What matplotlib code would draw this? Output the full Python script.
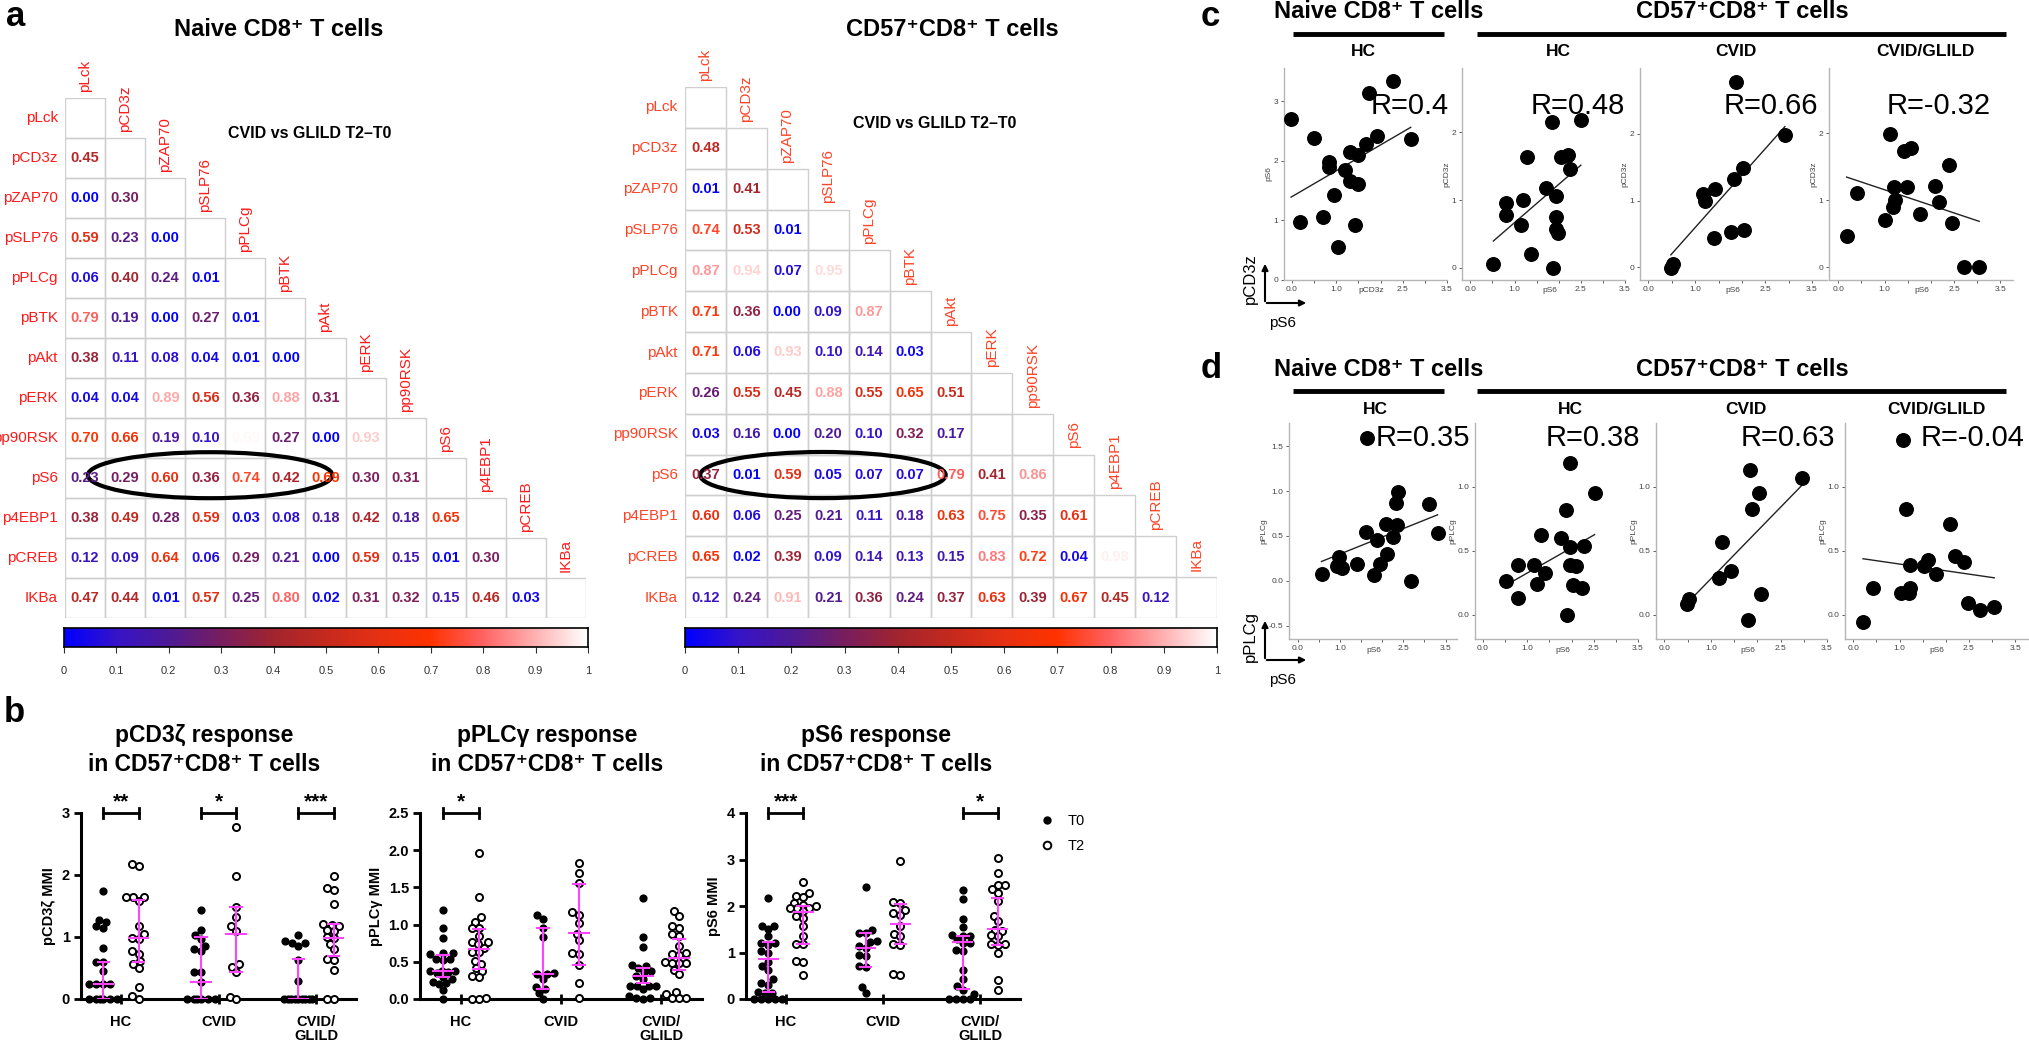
import numpy as np
import matplotlib
matplotlib.use('Agg')
import matplotlib.pyplot as plt
from matplotlib.colors import LinearSegmentedColormap
from matplotlib.patches import Rectangle, Ellipse
from matplotlib.lines import Line2D
from matplotlib.transforms import blended_transform_factory

plt.rcParams['font.family'] = ['Liberation Sans', 'DejaVu Sans']

# ---------------- data ----------------
markers = ['pLck', 'pCD3z', 'pZAP70', 'pSLP76', 'pPLCg', 'pBTK', 'pAkt', 'pERK',
           'pp90RSK', 'pS6', 'p4EBP1', 'pCREB', 'IKBa']

naive_p = [
    [],
    [0.45],
    [0.00, 0.30],
    [0.59, 0.23, 0.00],
    [0.06, 0.40, 0.24, 0.01],
    [0.79, 0.19, 0.00, 0.27, 0.01],
    [0.38, 0.11, 0.08, 0.04, 0.01, 0.00],
    [0.04, 0.04, 0.89, 0.56, 0.36, 0.88, 0.31],
    [0.70, 0.66, 0.19, 0.10, 0.99, 0.27, 0.00, 0.93],
    [0.23, 0.29, 0.60, 0.36, 0.74, 0.42, 0.69, 0.30, 0.31],
    [0.38, 0.49, 0.28, 0.59, 0.03, 0.08, 0.18, 0.42, 0.18, 0.65],
    [0.12, 0.09, 0.64, 0.06, 0.29, 0.21, 0.00, 0.59, 0.15, 0.01, 0.30],
    [0.47, 0.44, 0.01, 0.57, 0.25, 0.80, 0.02, 0.31, 0.32, 0.15, 0.46, 0.03],
]
cd57_p = [
    [],
    [0.48],
    [0.01, 0.41],
    [0.74, 0.53, 0.01],
    [0.87, 0.94, 0.07, 0.95],
    [0.71, 0.36, 0.00, 0.09, 0.87],
    [0.71, 0.06, 0.93, 0.10, 0.14, 0.03],
    [0.26, 0.55, 0.45, 0.88, 0.55, 0.65, 0.51],
    [0.03, 0.16, 0.00, 0.20, 0.10, 0.32, 0.17, 1.00],
    [0.37, 0.01, 0.59, 0.05, 0.07, 0.07, 0.79, 0.41, 0.86],
    [0.60, 0.06, 0.25, 0.21, 0.11, 0.18, 0.63, 0.75, 0.35, 0.61],
    [0.65, 0.02, 0.39, 0.09, 0.14, 0.13, 0.15, 0.83, 0.72, 0.04, 0.98],
    [0.12, 0.24, 0.91, 0.21, 0.36, 0.24, 0.37, 0.63, 0.39, 0.67, 0.45, 0.12],
]

groups = ['HC', 'CVID', 'CVID/\nGLILD']

cd3z_t0 = [
    [1.74, 1.28, 1.25, 1.17, 1.15, 0.82, 0.59, 0.59, 0.45, 0.24, 0.24, 0.24, 0.24, 0, 0, 0, 0, 0, 0],
    [1.43, 1.11, 1.03, 0.97, 0.86, 0.81, 0.77, 0.43, 0.43, 0.27, 0, 0, 0, 0, 0, 0],
    [1.03, 0.93, 0.91, 0.90, 0.86, 0.63, 0.29, 0, 0, 0, 0, 0, 0, 0, 0, 0],
]
cd3z_t2 = [
    [2.18, 2.15, 1.65, 1.65, 1.65, 1.58, 1.17, 1.05, 0.98, 0.97, 0.78, 0.73, 0.62, 0.57, 0.50, 0.20, 0.05, 0.0],
    [2.78, 1.98, 1.49, 1.33, 1.17, 1.10, 0.57, 0.52, 0.43, 0.04, 0.0],
    [1.99, 1.79, 1.76, 1.53, 1.21, 1.20, 1.17, 1.12, 1.09, 1.00, 0.98, 0.89, 0.80, 0.65, 0.63, 0.47, 0, 0],
]
cd3z_q_t0 = [(0.0, 0.24, 0.60), (0.0, 0.27, 1.00), (0.0, 0.0, 0.64)]
cd3z_q_t2 = [(0.59, 0.98, 1.60), (0.43, 1.05, 1.48), (0.69, 0.99, 1.21)]

plc_t0 = [
    [1.20, 0.95, 0.82, 0.62, 0.62, 0.60, 0.54, 0.54, 0.52, 0.38, 0.38, 0.37, 0.36, 0.35, 0.30, 0.27, 0.23, 0.21, 0.20, 0.12, 0.0],
    [1.13, 1.08, 0.96, 0.83, 0.35, 0.34, 0.33, 0.27, 0.16, 0.13, 0.08, 0.0],
    [1.36, 0.84, 0.70, 0.46, 0.45, 0.41, 0.38, 0.36, 0.31, 0.27, 0.18, 0.18, 0.18, 0.18, 0.13, 0.04, 0.02, 0.02, 0.0],
]
plc_t2 = [
    [1.96, 1.37, 1.10, 1.04, 0.96, 0.96, 0.85, 0.77, 0.77, 0.74, 0.69, 0.63, 0.63, 0.51, 0.47, 0.41, 0.37, 0.31, 0.29, 0.01, 0.0, 0.0],
    [1.83, 1.70, 1.56, 1.17, 1.13, 1.02, 0.88, 0.79, 0.62, 0.61, 0.46, 0.22, 0.02],
    [1.18, 1.12, 0.98, 0.96, 0.87, 0.85, 0.71, 0.62, 0.60, 0.59, 0.50, 0.49, 0.49, 0.49, 0.39, 0.33, 0.10, 0.07, 0.02, 0.02, 0.02],
]
plc_q_t0 = [(0.29, 0.38, 0.59), (0.13, 0.34, 0.95), (0.22, 0.31, 0.42)]
plc_q_t2 = [(0.40, 0.67, 0.94), (0.46, 0.89, 1.55), (0.39, 0.55, 0.80)]

s6_t0 = [
    [2.17, 1.58, 1.56, 1.51, 1.35, 1.20, 1.20, 1.17, 1.03, 0.99, 0.79, 0.70, 0.63, 0.42, 0.34, 0.31, 0.16, 0.13, 0.13, 0, 0, 0, 0, 0],
    [2.41, 1.49, 1.43, 1.41, 1.24, 1.22, 1.13, 1.10, 0.95, 0.92, 0.70, 0.68, 0.25, 0.12],
    [2.34, 2.14, 1.71, 1.54, 1.38, 1.35, 1.35, 1.28, 1.20, 1.20, 1.06, 1.04, 0.63, 0.43, 0.27, 0.20, 0.11, 0, 0, 0, 0],
]
s6_t2 = [
    [2.51, 2.27, 2.22, 2.19, 2.06, 2.03, 2.01, 1.96, 1.96, 1.96, 1.89, 1.78, 1.74, 1.56, 1.35, 1.19, 1.18, 0.81, 0.80, 0.52],
    [2.96, 2.08, 2.06, 1.91, 1.85, 1.81, 1.56, 1.40, 1.35, 1.19, 1.17, 0.54, 0.52],
    [3.03, 2.72, 2.46, 2.46, 2.37, 2.28, 2.10, 1.79, 1.67, 1.49, 1.46, 1.38, 1.35, 1.19, 1.19, 1.17, 1.00, 0.40, 0.20],
]
s6_q_t0 = [(0.14, 0.86, 1.22), (0.68, 1.10, 1.42), (0.22, 1.22, 1.36)]
s6_q_t2 = [(1.19, 1.87, 2.00), (1.19, 1.61, 2.04), (1.17, 1.51, 2.17)]

# panel c: pCD3z vs pS6
c_naive_hc_x = [-0.02, 0.18, 0.49, 0.71, 0.84, 0.84, 0.96, 1.03, 1.20, 1.30, 1.30, 1.42, 1.49, 1.49, 1.66, 1.74, 1.92, 2.28, 2.68]
c_naive_hc_y = [2.71, 0.97, 2.38, 1.05, 1.98, 1.89, 1.42, 0.55, 1.85, 2.15, 1.66, 0.92, 2.10, 1.62, 2.29, 3.14, 2.42, 3.35, 2.36]
c_cd57_hc_x = [0.52, 0.80, 0.80, 1.14, 1.20, 1.29, 1.38, 1.72, 1.85, 1.87, 1.94, 1.94, 1.94, 1.99, 2.04, 2.20, 2.26, 2.50]
c_cd57_hc_y = [0.06, 0.96, 0.78, 0.63, 1.00, 1.63, 0.20, 1.18, 2.15, 0.00, 1.06, 0.75, 0.58, 0.52, 1.64, 1.66, 1.46, 2.18]
c_cd57_cvid_x = [0.48, 0.52, 1.16, 1.22, 1.40, 1.42, 1.77, 1.83, 1.87, 2.02, 2.04, 2.92]
c_cd57_cvid_y = [-0.01, 0.05, 1.10, 0.99, 0.44, 1.17, 0.53, 1.33, 2.78, 1.49, 0.56, 1.98]
c_cd57_glild_x = [0.18, 0.40, 1.00, 1.11, 1.18, 1.20, 1.22, 1.41, 1.49, 1.58, 1.76, 2.09, 2.17, 2.38, 2.45, 2.72, 3.04]
c_cd57_glild_y = [0.47, 1.10, 0.70, 1.99, 0.90, 1.20, 1.00, 1.73, 1.20, 1.78, 0.79, 1.21, 0.98, 1.53, 0.66, 0.00, 0.00]
c_r = ['R=0.4', 'R=0.48', 'R=0.66', 'R=-0.32']

# panel d: pPLCg vs pS6
d_naive_hc_x = [0.56, 0.98, 0.93, 1.05, 1.40, 1.61, 1.81, 1.87, 1.94, 2.08, 2.12, 2.26, 2.32, 2.36, 2.38, 2.68, 3.10, 3.31, 1.63]
d_naive_hc_y = [0.07, 0.26, 0.17, 0.14, 0.19, 0.54, 0.06, 0.46, 0.19, 0.63, 0.30, 0.49, 0.87, 0.62, 0.99, 0.00, 0.86, 0.53, 1.59]
d_cd57_hc_x = [0.53, 0.80, 0.80, 1.16, 1.22, 1.32, 1.40, 1.76, 1.87, 1.89, 1.96, 1.96, 2.03, 2.09, 1.96, 2.23, 2.28, 2.52]
d_cd57_hc_y = [0.26, 0.39, 0.13, 0.39, 0.24, 0.62, 0.33, 0.60, 0.82, 0.00, 0.53, 0.39, 0.23, 0.38, 1.19, 0.21, 0.54, 0.95]
d_cd57_cvid_x = [0.49, 0.53, 1.18, 1.24, 1.43, 1.79, 1.85, 1.89, 2.03, 2.07, 2.96]
d_cd57_cvid_y = [0.08, 0.12, 0.29, 0.57, 0.34, -0.04, 1.13, 0.83, 0.95, 0.16, 1.07]
d_cd57_glild_x = [0.21, 0.43, 1.03, 1.14, 1.20, 1.23, 1.23, 1.52, 1.61, 1.79, 2.10, 2.21, 2.40, 2.48, 2.75, 3.05, 1.08]
d_cd57_glild_y = [-0.06, 0.21, 0.17, 0.83, 0.17, 0.21, 0.39, 0.38, 0.43, 0.32, 0.71, 0.46, 0.41, 0.09, 0.04, 0.06, 1.37]
d_r = ['R=0.35', 'R=0.38', 'R=0.63', 'R=-0.04']

# ---------------- figure ----------------
W, H = 2029, 1040
fig = plt.figure(figsize=(W / 100, H / 100), dpi=100)


def px_axes(x0, y0, x1, y1):
    ax = fig.add_axes([x0 / W, 1 - y1 / H, (x1 - x0) / W, (y1 - y0) / H])
    ax.patch.set_alpha(0)
    return ax


# overlay in pixel units for titles, bars and panel letters
ov = fig.add_axes([0, 0, 1, 1])
ov.set_xlim(0, W)
ov.set_ylim(H, 0)
ov.axis('off')

pcol = LinearSegmentedColormap.from_list('pval', [
    (0.0, '#0000ff'), (0.1, '#3614c8'), (0.2, '#4e1a96'), (0.3, '#781e5e'),
    (0.4, '#a2252f'), (0.5, '#c52a1e'), (0.6, '#e63113'), (0.7, '#ff3300'),
    (0.8, '#ff6262'), (0.9, '#ffb0b0'), (1.0, '#ffffff')])


def heatmap(rect, vals, lab_color, note_xy, ell):
    ax = px_axes(*rect)
    n = len(markers)
    ax.set_xlim(0, n)
    ax.set_ylim(n, 0)
    ax.axis('off')
    for i, row in enumerate(vals):
        for j in range(i + 1):
            ax.add_patch(Rectangle((j, i), 1, 1, fill=False, ec='#cfcfcf', lw=1))
        for j, v in enumerate(row):
            ax.text(j + 0.5, i + 0.5, f'{v:.2f}', color=pcol(v), ha='center', va='center',
                    fontsize=10.5, fontweight='bold')
    for i, m in enumerate(markers):
        ax.text(-0.18, i + 0.5, m, ha='right', va='center', color=lab_color, fontsize=11, clip_on=False)
        ax.text(i + 0.5, i - 0.15, m, rotation=90, ha='center', va='bottom', color=lab_color, fontsize=11)
    ax.text(note_xy[0], note_xy[1], 'CVID vs GLILD T2\u2013T0', ha='center', va='center',
            fontsize=11.5, fontweight='bold')
    r = markers.index('pS6')
    ax.add_patch(Ellipse((ell[0], r + ell[1]), ell[2], ell[3], fill=False, ec='black', lw=3, clip_on=False))


def colorbar(rect):
    cax = px_axes(*rect)
    cax.imshow(np.linspace(0, 1, 256)[None, :], cmap=pcol, aspect='auto', extent=[0, 1, 0, 1])
    ticks = np.round(np.arange(0, 1.01, 0.1), 1)
    cax.set_xticks(ticks)
    cax.set_xticklabels(['0'] + [f'{t:.1f}' for t in ticks[1:-1]] + ['1'])
    cax.set_yticks([])
    cax.tick_params(axis='x', length=4, pad=10, labelsize=8, colors='#333333')
    for s in cax.spines.values():
        s.set_linewidth(1.2)


heatmap((65, 98, 586, 618), naive_p, '#ff1a1a', (6.1, 0.88), (3.62, 0.43, 6.1, 1.15))
heatmap((685, 87, 1217, 618), cd57_p, '#ff4326', (6.1, 0.9), (3.37, 0.5, 6.0, 1.13))
colorbar((64, 628, 588, 647))
colorbar((685, 628, 1217, 647))

ov.text(279, 30, 'Naive CD8\u207a T cells', ha='center', va='center', fontsize=17, fontweight='bold')
ov.text(952, 30, 'CD57\u207aCD8\u207a T cells', ha='center', va='center', fontsize=17, fontweight='bold')


# ---------------- panel b ----------------
def swarm_x(ax, xc, vals, diam, maxw):
    t = ax.transData
    pts = t.transform(np.column_stack([np.full(len(vals), xc), vals]))
    cx = pts[0, 0]
    ys = pts[:, 1]
    cands = np.arange(-maxw, maxw + 0.01, 0.5)
    cands = cands[np.argsort(np.abs(cands), kind='stable')]
    placed = []
    xs = np.zeros(len(vals))
    for i in np.argsort(ys, kind='stable'):
        best, bestd, bestx = None, -1, cx
        for c in cands:
            x = cx + c
            d = min([np.hypot(x - px, ys[i] - py) for px, py in placed], default=1e9)
            if d >= diam:
                best = x
                break
            if d > bestd:
                bestd, bestx = d, x
        if best is None:
            best = bestx
        placed.append((best, ys[i]))
        xs[i] = best
    return t.inverted().transform(np.column_stack([xs, ys]))[:, 0]


def dot_chart(rect, t0, t2, q0, q2, top, yticks, ytl, ylabel, sig):
    ax = px_axes(*rect)
    ax.set_xlim(-0.41, 2.41)
    ax.set_ylim(0, top)
    off = 0.18
    pc = '#ff44ff'
    for g in range(3):
        for vals, q, dx, filled in ((t0[g], q0[g], -off, True), (t2[g], q2[g], off, False)):
            xs = swarm_x(ax, g + dx, vals, 6.8, 15)
            if filled:
                ax.scatter(xs, vals, s=24, color='black', zorder=3, clip_on=False)
            else:
                ax.scatter(xs, vals, s=26, facecolor='white', edgecolor='black', lw=1.4,
                           zorder=3, clip_on=False)
            ax.plot([g + dx, g + dx], [q[0], q[2]], color=pc, lw=1.5, zorder=4)
            ax.plot([g + dx - 0.1, g + dx + 0.1], [q[1], q[1]], color=pc, lw=1.5, zorder=4)
            for qq in (q[0], q[2]):
                ax.plot([g + dx - 0.06, g + dx + 0.06], [qq, qq], color=pc, lw=1.5, zorder=4)
    for g, stars in sig:
        ax.plot([g - off, g + off], [top, top], color='black', lw=2, clip_on=False)
        ax.plot([g - off, g - off], [top * 0.975, top * 1.025], color='black', lw=2, clip_on=False)
        ax.plot([g + off, g + off], [top * 0.975, top * 1.025], color='black', lw=2, clip_on=False)
        ax.annotate(stars, xy=(g, top), xytext=(0, 1), textcoords='offset points',
                    ha='center', va='bottom', fontsize=15, fontweight='bold')
    for s in ('top', 'right'):
        ax.spines[s].set_visible(False)
    for s in ('left', 'bottom'):
        ax.spines[s].set_linewidth(2.2)
    ax.set_xticks(range(3))
    ax.set_xticklabels(groups, fontsize=10.5, fontweight='bold', linespacing=1.0)
    ax.tick_params(axis='x', direction='inout', length=7, width=2, pad=8)
    ax.set_yticks(yticks)
    ax.set_yticklabels(ytl, fontsize=10.5, fontweight='bold')
    ax.tick_params(axis='y', length=5, width=2, pad=3)
    ax.set_ylabel(ylabel, fontsize=10.5, fontweight='bold', labelpad=4)
    return ax


dot_chart((81, 813, 356, 999), cd3z_t0, cd3z_t2, cd3z_q_t0, cd3z_q_t2, 3.0,
          [0, 1, 2, 3], ['0', '1', '2', '3'], 'pCD3\u03b6 MMI', [(0, '**'), (1, '*'), (2, '***')])
dot_chart((420, 813, 702, 999), plc_t0, plc_t2, plc_q_t0, plc_q_t2, 2.5,
          [0, 0.5, 1, 1.5, 2, 2.5], ['0.0', '0.5', '1.0', '1.5', '2.0', '2.5'], 'pPLC\u03b3 MMI', [(0, '*')])
dot_chart((746, 813, 1020, 999), s6_t0, s6_t2, s6_q_t0, s6_q_t2, 4.0,
          [0, 1, 2, 3, 4], ['0', '1', '2', '3', '4'], 'pS6 MMI', [(0, '***'), (2, '*')])

for x, name in ((204, 'pCD3\u03b6'), (547, 'pPLC\u03b3'), (876, 'pS6')):
    ov.text(x, 750, f'{name} response\nin CD57\u207aCD8\u207a T cells', ha='center', va='center',
            fontsize=16.5, fontweight='bold', linespacing=1.3)

handles = [Line2D([], [], ls='none', marker='o', ms=5, mfc='black', mec='black'),
           Line2D([], [], ls='none', marker='o', ms=5.5, mfc='white', mec='black', mew=1.4)]
fig.legend(handles, ['T0', 'T2'], loc='upper left', bbox_to_anchor=(1038 / W, 1 - 814 / H),
           frameon=False, fontsize=10.5, handlelength=1.2, handletextpad=0.8, labelspacing=0.75,
           borderpad=0, borderaxespad=0)


# ---------------- panels c and d ----------------
def corr_panel(rect, xs, ys, xlim, ylim, yticks, ytl, xlabel, ylabel, rtext, rx, ry):
    ax = px_axes(*rect)
    ax.scatter(xs, ys, s=95, color='black', zorder=3, clip_on=False)
    k, b = np.polyfit(xs, ys, 1)
    xx = np.array([min(xs), max(xs)])
    ax.plot(xx, k * xx + b, color='#222222', lw=1)
    ax.set_xlim(*xlim)
    ax.set_ylim(*ylim)
    for s in ('top', 'right'):
        ax.spines[s].set_visible(False)
    for s in ('left', 'bottom'):
        ax.spines[s].set_color('#b5b5b5')
        ax.spines[s].set_linewidth(1)
    ax.set_xticks([0, 0.5, 1, 1.5, 2, 2.5, 3, 3.5])
    ax.set_xticklabels(['0.0', '', '1.0', '', '', '2.5', '', '3.5'])
    ax.set_yticks(yticks)
    ax.set_yticklabels(ytl)
    ax.tick_params(labelsize=6, colors='#444444', length=2, width=0.6, pad=2)
    tr = blended_transform_factory(ax.transData, ax.transAxes)
    ax.text(1.8, -0.035, xlabel, transform=tr, ha='center', va='top', fontsize=6, color='#444444')
    ax.set_ylabel(ylabel, fontsize=6, color='#444444', labelpad=1)
    ax.text(rx, ry, rtext, transform=ax.transAxes, ha='right', va='center', fontsize=21)
    return ax


c_rects = [(1284, 68, 1447, 280), (1462, 68, 1625, 280), (1640, 68, 1827, 280), (1829, 68, 2013, 280)]
c_data = [(c_naive_hc_x, c_naive_hc_y), (c_cd57_hc_x, c_cd57_hc_y),
          (c_cd57_cvid_x, c_cd57_cvid_y), (c_cd57_glild_x, c_cd57_glild_y)]
c_xlims = [(-0.18, 3.3), (-0.19, 3.27), (-0.18, 3.82), (-0.2, 3.77)]
c_ylims = [(0, 3.56), (-0.18, 2.95), (-0.19, 2.99), (-0.19, 2.97)]
c_rx = [1.01, 1.0, 0.95, 0.88]
for i in range(4):
    yt = [0, 1, 2, 3] if i == 0 else [0, 1, 2]
    corr_panel(c_rects[i], *c_data[i], c_xlims[i], c_ylims[i], yt, [str(v) for v in yt],
               'pCD3z' if i == 0 else 'pS6', 'pS6' if i == 0 else 'pCD3z', c_r[i], c_rx[i], 0.82)

d_rects = [(1289, 423, 1457, 639), (1475, 423, 1638, 639), (1656, 423, 1827, 639), (1845, 423, 2028, 639)]
d_data = [(d_naive_hc_x, d_naive_hc_y), (d_cd57_hc_x, d_cd57_hc_y),
          (d_cd57_cvid_x, d_cd57_cvid_y), (d_cd57_glild_x, d_cd57_glild_y)]
d_xlims = [(-0.21, 3.77), (-0.18, 3.34), (-0.18, 3.5), (-0.18, 3.78)]
d_ylims = [(-0.65, 1.76), (-0.19, 1.5), (-0.19, 1.5), (-0.19, 1.5)]
d_rx = [1.08, 1.01, 1.05, 0.98]
for i in range(4):
    if i == 0:
        yt, ytl = [-0.5, 0, 0.5, 1, 1.5], ['-0.5', '0.0', '0.5', '1.0', '1.5']
    else:
        yt, ytl = [0, 0.5, 1], ['0.0', '0.5', '1.0']
    corr_panel(d_rects[i], *d_data[i], d_xlims[i], d_ylims[i], yt, ytl,
               'pS6', 'pPLCg', d_r[i], d_rx[i], 0.93)

# headers for c and d
for y0, sub_xs in ((0, (1363, 1558, 1736, 1925)), (357, (1375, 1570, 1746, 1936))):
    ov.text(1379, y0 + 12, 'Naive CD8\u207a T cells', ha='center', va='center', fontsize=17, fontweight='bold')
    ov.text(1742, y0 + 12, 'CD57\u207aCD8\u207a T cells', ha='center', va='center', fontsize=17, fontweight='bold')
    ov.plot([1293, 1444], [y0 + 34, y0 + 34], color='black', lw=3.5, solid_capstyle='butt')
    ov.plot([1477, 2006], [y0 + 34, y0 + 34], color='black', lw=3.5, solid_capstyle='butt')
    for x, s in zip(sub_xs, ['HC', 'HC', 'CVID', 'CVID/GLILD']):
        ov.text(x, y0 + 52, s, ha='center', va='center', fontsize=12.5, fontweight='bold')

# axis hint arrows
for y0, ylab in ((303, 'pCD3z'), (660, 'pPLCg')):
    ov.annotate('', xy=(1265, y0 - 42), xytext=(1265, y0 + 1),
                arrowprops=dict(arrowstyle='-|>', lw=1.5, color='black', mutation_scale=9))
    ov.annotate('', xy=(1309, y0), xytext=(1264, y0),
                arrowprops=dict(arrowstyle='-|>', lw=1.5, color='black', mutation_scale=9))
    ov.text(1250, y0 - 24, ylab, rotation=90, ha='center', va='center', fontsize=12)
    ov.text(1283, y0 + 20, 'pS6', ha='center', va='center', fontsize=11)

# panel letters
for x, y, s in ((6, 17, 'a'), (4, 712, 'b'), (1201, 17, 'c'), (1201, 368, 'd')):
    ov.text(x, y, s, ha='left', va='center', fontsize=25, fontweight='bold')

fig.savefig('out.png', dpi=100)
